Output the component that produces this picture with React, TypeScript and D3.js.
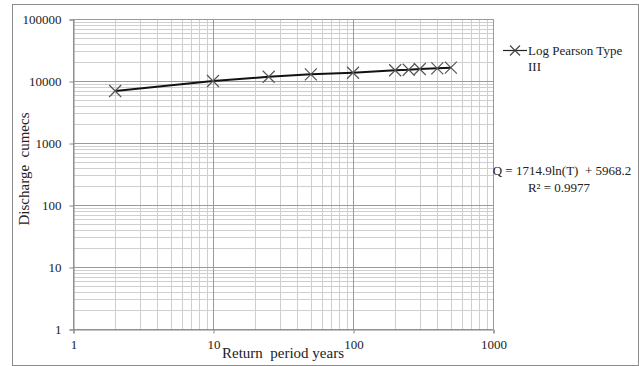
import { useEffect, useRef } from 'react';
import * as d3 from 'd3';

// return periods (years) and discharge (cumecs)
const returnPeriods = [2, 10, 25, 50, 100, 200, 250, 300, 400, 500];
const discharge = [6900, 10000, 11700, 12800, 13600, 14900, 15200, 15600, 16000, 16400];

const xTicks = [1, 10, 100, 1000];
const yTicks = [1, 10, 100, 1000, 10000, 100000];

const seriesName = ['Log Pearson Type', 'III'];
const equationText = 'Q = 1714.9ln(T)  + 5968.2';
const r2Text = 'R² = 0.9977';

const FONT = '"Liberation Serif", "Times New Roman", serif';

const W = 639;
const H = 366;

const App = () => {
  const svgRef = useRef<SVGSVGElement>(null);

  useEffect(() => {
    if (!svgRef.current) return;
    const svg = d3.select(svgRef.current);
    svg.selectAll('*').remove();

    const x = d3.scaleLog().domain([1, 1000]).range([73, 493]);
    const y = d3.scaleLog().domain([1, 100000]).range([329, 19]);

    // outer frame
    svg.append('rect')
      .attr('x', 12.5).attr('y', 4.5)
      .attr('width', 626).attr('height', 361)
      .attr('fill', '#fff')
      .attr('stroke', '#8c8c8c')
      .attr('stroke-width', 1);

    const [x0, x1] = x.range();
    const [y0, y1] = y.range();

    // minor grid
    const minorX: number[] = [];
    for (let d = 1; d < 1000; d *= 10) for (let k = 2; k <= 9; k++) minorX.push(d * k);
    const minorY: number[] = [];
    for (let d = 1; d < 100000; d *= 10) for (let k = 2; k <= 9; k++) minorY.push(d * k);

    const grid = svg.append('g');
    grid.selectAll('line.mx').data(minorX).enter().append('line')
      .attr('x1', d => Math.round(x(d)) + 0.5).attr('x2', d => Math.round(x(d)) + 0.5)
      .attr('y1', y0).attr('y2', y1)
      .attr('stroke', '#cfcfcf').attr('stroke-width', 1);
    grid.selectAll('line.my').data(minorY).enter().append('line')
      .attr('y1', d => Math.round(y(d)) + 0.5).attr('y2', d => Math.round(y(d)) + 0.5)
      .attr('x1', x0).attr('x2', x1)
      .attr('stroke', '#cfcfcf').attr('stroke-width', 1);

    // major grid
    grid.selectAll('line.Mx').data(xTicks).enter().append('line')
      .attr('x1', d => Math.round(x(d)) + 0.5).attr('x2', d => Math.round(x(d)) + 0.5)
      .attr('y1', y0).attr('y2', y1)
      .attr('stroke', '#9a9a9a').attr('stroke-width', 1);
    grid.selectAll('line.My').data(yTicks).enter().append('line')
      .attr('y1', d => Math.round(y(d)) + 0.5).attr('y2', d => Math.round(y(d)) + 0.5)
      .attr('x1', x0).attr('x2', x1)
      .attr('stroke', '#9a9a9a').attr('stroke-width', 1);

    // axes
    const xAxis = d3.axisBottom(x).tickValues(xTicks).tickFormat(d3.format('d')).tickSize(4).tickPadding(6);
    const gx = svg.append('g').attr('transform', `translate(0.5,${Math.round(y0) + 0.5})`).call(xAxis);
    gx.select('.domain').attr('stroke', '#888');
    gx.selectAll('.tick line').attr('stroke', '#888');
    gx.selectAll('.tick text')
      .attr('font-family', FONT).attr('font-size', 13).attr('fill', '#222');

    const yAxis = d3.axisLeft(y).tickValues(yTicks).tickFormat(d3.format('d')).tickSize(4).tickPadding(8);
    const gy = svg.append('g').attr('transform', `translate(${Math.round(x0) + 0.5},0.5)`).call(yAxis);
    gy.select('.domain').attr('stroke', '#888');
    gy.selectAll('.tick line').attr('stroke', '#888');
    gy.selectAll('.tick text')
      .attr('font-family', FONT).attr('font-size', 13).attr('fill', '#222');

    // axis titles
    svg.append('text')
      .attr('x', 283).attr('y', 358)
      .attr('text-anchor', 'middle')
      .attr('font-family', FONT).attr('font-size', 15).attr('fill', '#222')
      .attr('xml:space', 'preserve')
      .text('Return  period years');

    svg.append('text')
      .attr('transform', 'translate(29,169) rotate(-90)')
      .attr('text-anchor', 'middle')
      .attr('font-family', FONT).attr('font-size', 15).attr('fill', '#222')
      .attr('xml:space', 'preserve')
      .text('Discharge  cumecs');

    // series line
    const pts = returnPeriods.map((t, i) => [t, discharge[i]] as [number, number]);
    const line = d3.line<[number, number]>().x(d => x(d[0])).y(d => y(d[1]));
    svg.append('path')
      .datum(pts)
      .attr('d', line)
      .attr('fill', 'none')
      .attr('stroke', '#111')
      .attr('stroke-width', 2);

    // x markers
    const m = 6;
    const markers = svg.append('g');
    pts.forEach(p => {
      const cx = x(p[0]);
      const cy = y(p[1]);
      markers.append('path')
        .attr('d', `M${cx - m},${cy - m}L${cx + m},${cy + m}M${cx - m},${cy + m}L${cx + m},${cy - m}`)
        .attr('stroke', '#555').attr('stroke-width', 1.2).attr('fill', 'none');
    });

    // legend
    const lg = svg.append('g');
    lg.append('line').attr('x1', 503).attr('x2', 527).attr('y1', 50.5).attr('y2', 50.5)
      .attr('stroke', '#222').attr('stroke-width', 1.2);
    lg.append('path')
      .attr('d', `M${515 - 5},${50.5 - 5}L${515 + 5},${50.5 + 5}M${515 - 5},${50.5 + 5}L${515 + 5},${50.5 - 5}`)
      .attr('stroke', '#444').attr('stroke-width', 1.1);
    seriesName.forEach((s, i) => {
      lg.append('text')
        .attr('x', 528).attr('y', 55 + i * 16)
        .attr('font-family', FONT).attr('font-size', 13).attr('fill', '#222')
        .text(s);
    });

    // trendline equation
    svg.append('text')
      .attr('x', 562).attr('y', 175)
      .attr('text-anchor', 'middle')
      .attr('font-family', FONT).attr('font-size', 13).attr('fill', '#222')
      .attr('xml:space', 'preserve')
      .text(equationText);
    svg.append('text')
      .attr('x', 559).attr('y', 192)
      .attr('text-anchor', 'middle')
      .attr('font-family', FONT).attr('font-size', 13).attr('fill', '#222')
      .text(r2Text);
  }, []);

  return (
    <svg ref={svgRef} width={W} height={H}
      style={{ position: 'absolute', left: 0, top: 0, background: '#fff' }} />
  );
};

export default App;
